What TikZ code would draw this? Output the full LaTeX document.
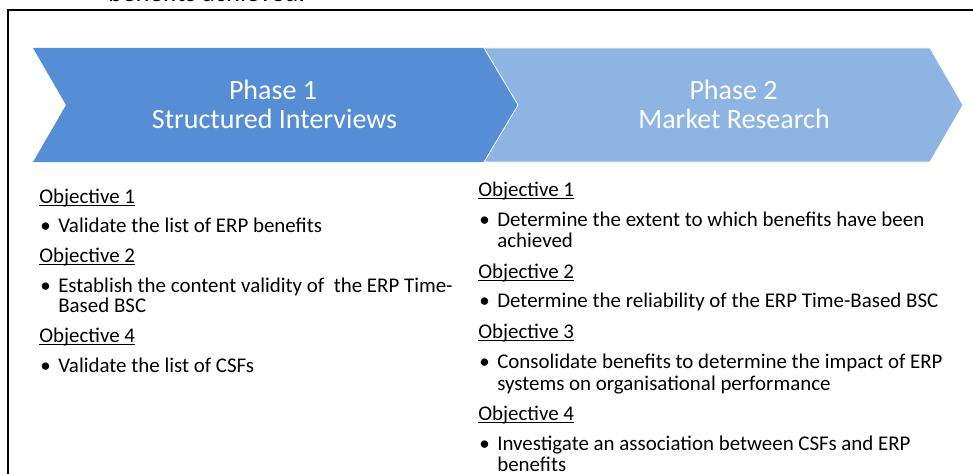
\documentclass[tikz,border=0pt]{standalone}
\usepackage{fontspec}
\setmainfont{Carlito}
\usetikzlibrary{calc,positioning}

\definecolor{phaseone}{RGB}{85,142,213}
\definecolor{phasetwo}{RGB}{142,180,227}
\newcommand\objfont{\fontsize{15.7}{18}\selectfont}
\newcommand\phasefont{\fontsize{21}{24}\selectfont}

\begin{document}
\begin{tikzpicture}[x=0.75pt,y=-0.75pt,
  phase/.style={text=white,anchor=base,inner sep=0pt,font=\phasefont},
  objhead/.style={anchor=base west,inner sep=0pt,font=\objfont},
  itemdot/.style={anchor=base west,inner sep=0pt,font=\objfont},
  itemline/.style={anchor=base west,inner sep=0pt,font=\objfont}]

\useasboundingbox (0,0) rectangle (973,474);
\clip (0,0) rectangle (973,474);

% text cut off above the frame
\node[anchor=base west,inner sep=0pt,font=\fontsize{20}{24}\selectfont] (prev) at (108,2) {benefits achieved.};

\draw[line width=1.5pt] (8.3,490) |- (990,10.5);

% the two chevrons
\fill[phaseone] (33,48) -- (484,48) -- (518,105) -- (484,162) -- (33,162) -- (66,105) -- cycle;
\draw[white,line width=0.6pt,fill=phasetwo] (484,48) -- (930,48) -- (963,105) -- (930,162) -- (484,162) -- (518,105) -- cycle;

\node[phase] (p1num) at (273,100) {Phase 1};
\node[phase] (p1name) at (274.5,128) {Structured Interviews};
\node[phase] (p2num) at (733.5,100) {Phase 2};
\node[phase] (p2name) at (734,128) {Market Research};

% phase 1
\node[objhead] (a1) at (39,203) {Objective 1};
\node[itemdot] (a1d) at (40,232) {\textbullet};
\node[itemline] (a1t) at (58,232) {Validate the list of ERP benefits};
\node[objhead] (a2) at (39,262) {Objective 2};
\node[itemdot] (a2d) at (40,292) {\textbullet};
\node[itemline] (a2t) at (58,292) {Establish the content validity of\ \ the ERP Time-};
\node[itemline] (a2u) at (58,312) {Based BSC};
\node[objhead] (a4) at (39,342) {Objective 4};
\node[itemdot] (a4d) at (40,372) {\textbullet};
\node[itemline] (a4t) at (58,372) {Validate the list of CSFs};

% phase 2
\node[objhead] (b1) at (478,196) {Objective 1};
\node[itemdot] (b1d) at (479,226) {\textbullet};
\node[itemline] (b1t) at (497,226) {Determine the extent to which benefits have been};
\node[itemline] (b1u) at (497,247) {achieved};
\node[objhead] (b2) at (478,278) {Objective 2};
\node[itemdot] (b2d) at (479,307) {\textbullet};
\node[itemline] (b2t) at (497,307) {Determine the reliability of the ERP Time-Based BSC};
\node[objhead] (b3) at (478,338) {Objective 3};
\node[itemdot] (b3d) at (479,368) {\textbullet};
\node[itemline] (b3t) at (497,368) {Consolidate benefits to determine the impact of ERP};
\node[itemline] (b3u) at (497,390) {systems on organisational performance};
\node[objhead] (b4) at (478,420) {Objective 4};
\node[itemdot] (b4d) at (479,450) {\textbullet};
\node[itemline] (b4t) at (497,450) {Investigate an association between CSFs and ERP};
\node[itemline] (b4u) at (497,471) {benefits};

\foreach \n in {a1,a2,a4,b1,b2,b3,b4}
  \draw[line width=0.75pt] ([yshift=-1.6pt]\n.base west) -- ([yshift=-1.6pt]\n.base east);

\end{tikzpicture}
\end{document}
